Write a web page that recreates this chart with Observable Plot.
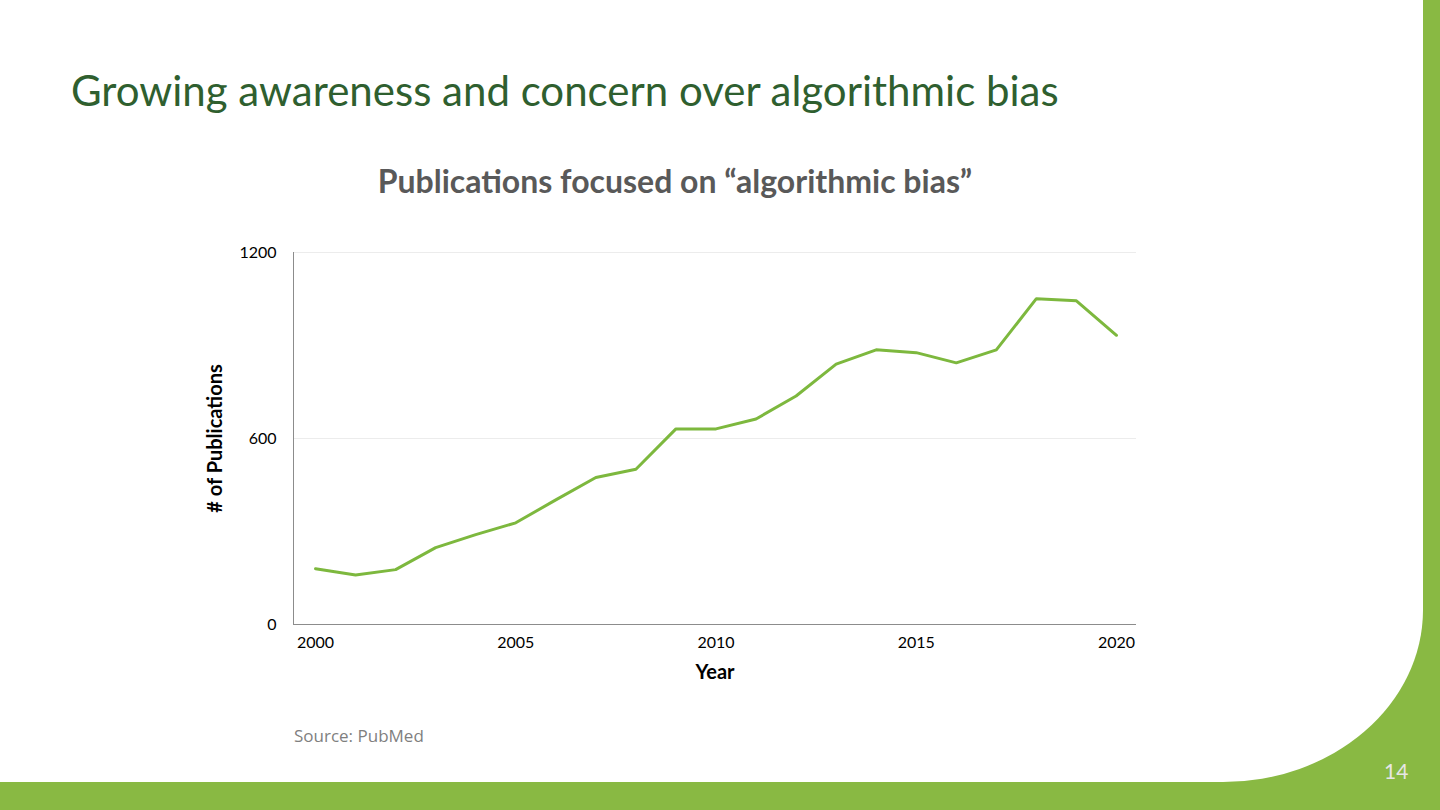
<!DOCTYPE html>
<html>
<head>
<meta charset="utf-8">
<script src="https://cdn.jsdelivr.net/npm/d3@7"></script>
<script src="https://cdn.jsdelivr.net/npm/@observablehq/plot@0.6"></script>
<style>
  html, body { margin: 0; padding: 0; width: 1440px; height: 810px; overflow: hidden; background: #89b943; font-family: Lato, "Open Sans", sans-serif; }
  #slide { position: absolute; left: 0; top: 0; width: 1423px; height: 782px; background: #fff; border-bottom-right-radius: 200px 172px; }
  #title { position: absolute; left: 71px; top: 65px; font-size: 42px; color: #2f5f2f; font-family: Lato, sans-serif; white-space: nowrap; }
  #ctitle { position: absolute; left: 0; width: 1350px; top: 161px; text-align: center; font-size: 32px; font-weight: bold; color: #595959; font-family: Lato, sans-serif; }
  #chart { position: absolute; left: 180px; top: 230px; }
  #source { position: absolute; left: 294px; top: 724px; font-size: 17px; color: #7f7f7f; font-family: "Open Sans", Lato, sans-serif; }
  #page { position: absolute; left: 1384px; top: 758px; font-size: 21px; color: #e6e6e6; font-family: Lato, sans-serif; }
  #chart svg [aria-label="y-axis label"], #chart svg [aria-label="x-axis label"] { font-weight: bold; font-size: 20px; fill: #000; }
  #chart svg [aria-label="y-axis tick label"], #chart svg [aria-label="x-axis tick label"] { font-size: 16px; fill: #000; }
</style>
</head>
<body>
<div id="slide"></div>
<div id="title">Growing awareness and concern over algorithmic bias</div>
<div id="ctitle">Publications focused on “algorithmic bias”</div>
<div id="chart"></div>
<div id="source">Source: PubMed</div>
<div id="page">14</div>
<script>
const years = [2000,2001,2002,2003,2004,2005,2006,2007,2008,2009,2010,2011,2012,2013,2014,2015,2016,2017,2018,2019,2020];
const publications = [180,160,177,248,290,328,402,474,501,631,631,663,737,840,886,877,844,886,1051,1044,933];
const xTicks = [2000,2005,2010,2015,2020];
const yTicks = [0,600,1200];
const xDomain = [1999.45, 2020.5];
const yDomain = [0, 1200];

const data = years.map((y, i) => ({year: y, value: publications[i]}));

const chart = Plot.plot({
  width: 980,
  height: 475,
  marginLeft: 113,
  marginRight: 24,
  marginTop: 22,
  marginBottom: 81,
  style: {fontFamily: "Lato, 'Open Sans', sans-serif", fontSize: "16px", color: "#000", background: "transparent"},
  x: {domain: xDomain},
  y: {domain: yDomain},
  marks: [
    Plot.ruleY([600, 1200], {stroke: "#ececec", strokeWidth: 1}),
    Plot.ruleX([xDomain[0]], {stroke: "#8c8c8c", strokeWidth: 1}),
    Plot.ruleY([0], {stroke: "#8c8c8c", strokeWidth: 1}),
    Plot.axisX({ticks: xTicks, tickSize: 0, tickPadding: 12, tickFormat: d => String(d), label: "Year", labelAnchor: "center", labelArrow: false, labelOffset: 54}),
    Plot.axisY({ticks: yTicks, tickSize: 0, tickPadding: 17, tickFormat: d => String(d), label: "# of Publications", labelAnchor: "center", labelArrow: false, labelOffset: 86}),
    Plot.line(data, {x: "year", y: "value", stroke: "#7db83e", strokeWidth: 3})
  ]
});
document.getElementById("chart").appendChild(chart);
</script>
</body>
</html>
